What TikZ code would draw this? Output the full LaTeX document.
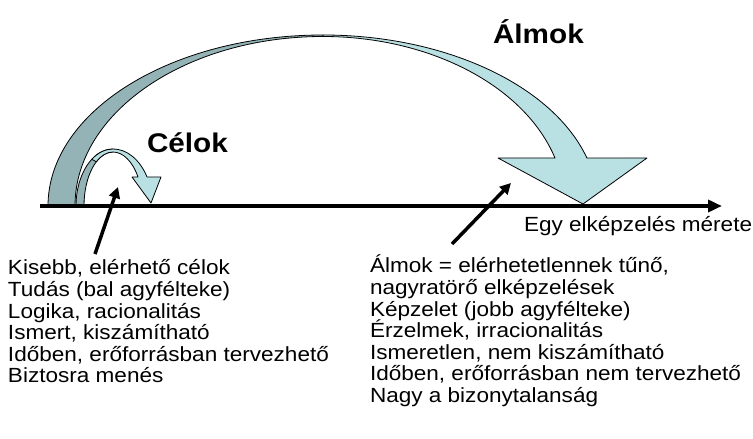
\documentclass[tikz,border=0pt]{standalone}
\usepackage{fontspec}
\setmainfont[FakeStretch=1.1]{Liberation Sans}
\newfontfamily\headfont[FakeStretch=1.1]{Liberation Sans}
\usetikzlibrary{arrows.meta}
\definecolor{backteal}{HTML}{94B3B6}
\definecolor{frontteal}{HTML}{B9E0E3}

\begin{document}
\begin{tikzpicture}[
  x=1pt, y=1pt,
  every node/.style={inner sep=0pt,outer sep=0pt},
  listtext/.style={anchor=base west,font=\fontsize{20.5}{22}\selectfont},
  title/.style={anchor=base west,font=\headfont\bfseries\fontsize{27}{30}\selectfont},
  band/.style={draw=black,line width=0.8pt,line join=round},
  pointer/.style={line width=3.5pt,-{Triangle[length=11pt,width=11pt]}},
  axis/.style={line width=3.5pt,-{Triangle[length=14pt,width=12pt]}}
]
  \useasboundingbox (0,0) rectangle (753,439);

  \draw[band,fill=backteal] (48,233) arc[start angle=180,end angle=90,x radius=275,y radius=171]
    -- (323,402.5) arc[start angle=90,end angle=180,x radius=248,y radius=169.5] -- cycle;
  \draw[band,fill=frontteal] (323,404) arc[start angle=90,end angle=16.3,x radius=275,y radius=171]
    -- (647,281) -- (583,235) -- (498,281) -- (555,281)
    arc[start angle=16.45,end angle=90,x radius=242,y radius=169.5] -- cycle;

  \draw[band,fill=backteal] (76,233) arc[start angle=180,end angle=90,x radius=37,y radius=57]
    -- (113,287) arc[start angle=90,end angle=180,x radius=29,y radius=54] -- cycle;
  \draw[band,fill=frontteal] (91.8,279.7) arc[start angle=125,end angle=90,x radius=37,y radius=57]
    arc[start angle=90,end angle=30.6,x radius=39.5,y radius=57]
    -- (161,262) -- (151,236) -- (132,262) -- (138,262)
    arc[start angle=32.5,end angle=90,x radius=29.7,y radius=54]
    arc[start angle=90,end angle=125,x radius=29,y radius=54] -- cycle;

  \coordinate (origin) at (40,233);
  \coordinate (end) at (722,233);
  \draw[axis] (origin) -- (end);

  \node[title] (celok) at (147,286) {Célok};
  \node[title] (almok) at (493,395) {Álmok};
  \node[listtext] (meret) at (524,207) {Egy elképzelés mérete};

  \foreach \t [count=\i] in {{Kisebb, elérhető célok},{Tudás (bal agyfélteke)},
    {Logika, racionalitás},{Ismert, kiszámítható},
    {Időben, erőforrásban tervezhető},{Biztosra menés}}
    \node[listtext] (cel\i) at (8,{164-21.6*(\i-1)}) {\t};
  \foreach \t [count=\i] in {{Álmok = elérhetetlennek tűnő,},{nagyratörő elképzelések},
    {Képzelet (jobb agyfélteke)},{Érzelmek, irracionalitás},
    {Ismeretlen, nem kiszámítható},{Időben, erőforrásban nem tervezhető},
    {Nagy a bizonytalanság}}
    \node[listtext] (alm\i) at (370,{166-21.6*(\i-1)}) {\t};

  \coordinate (celtail) at (95,185);
  \coordinate (celtip) at (118,252);
  \coordinate (almtail) at (452,195);
  \coordinate (almtip) at (511,256);
  \draw[pointer] (celtail) -- (celtip);
  \draw[pointer] (almtail) -- (almtip);
\end{tikzpicture}
\end{document}
